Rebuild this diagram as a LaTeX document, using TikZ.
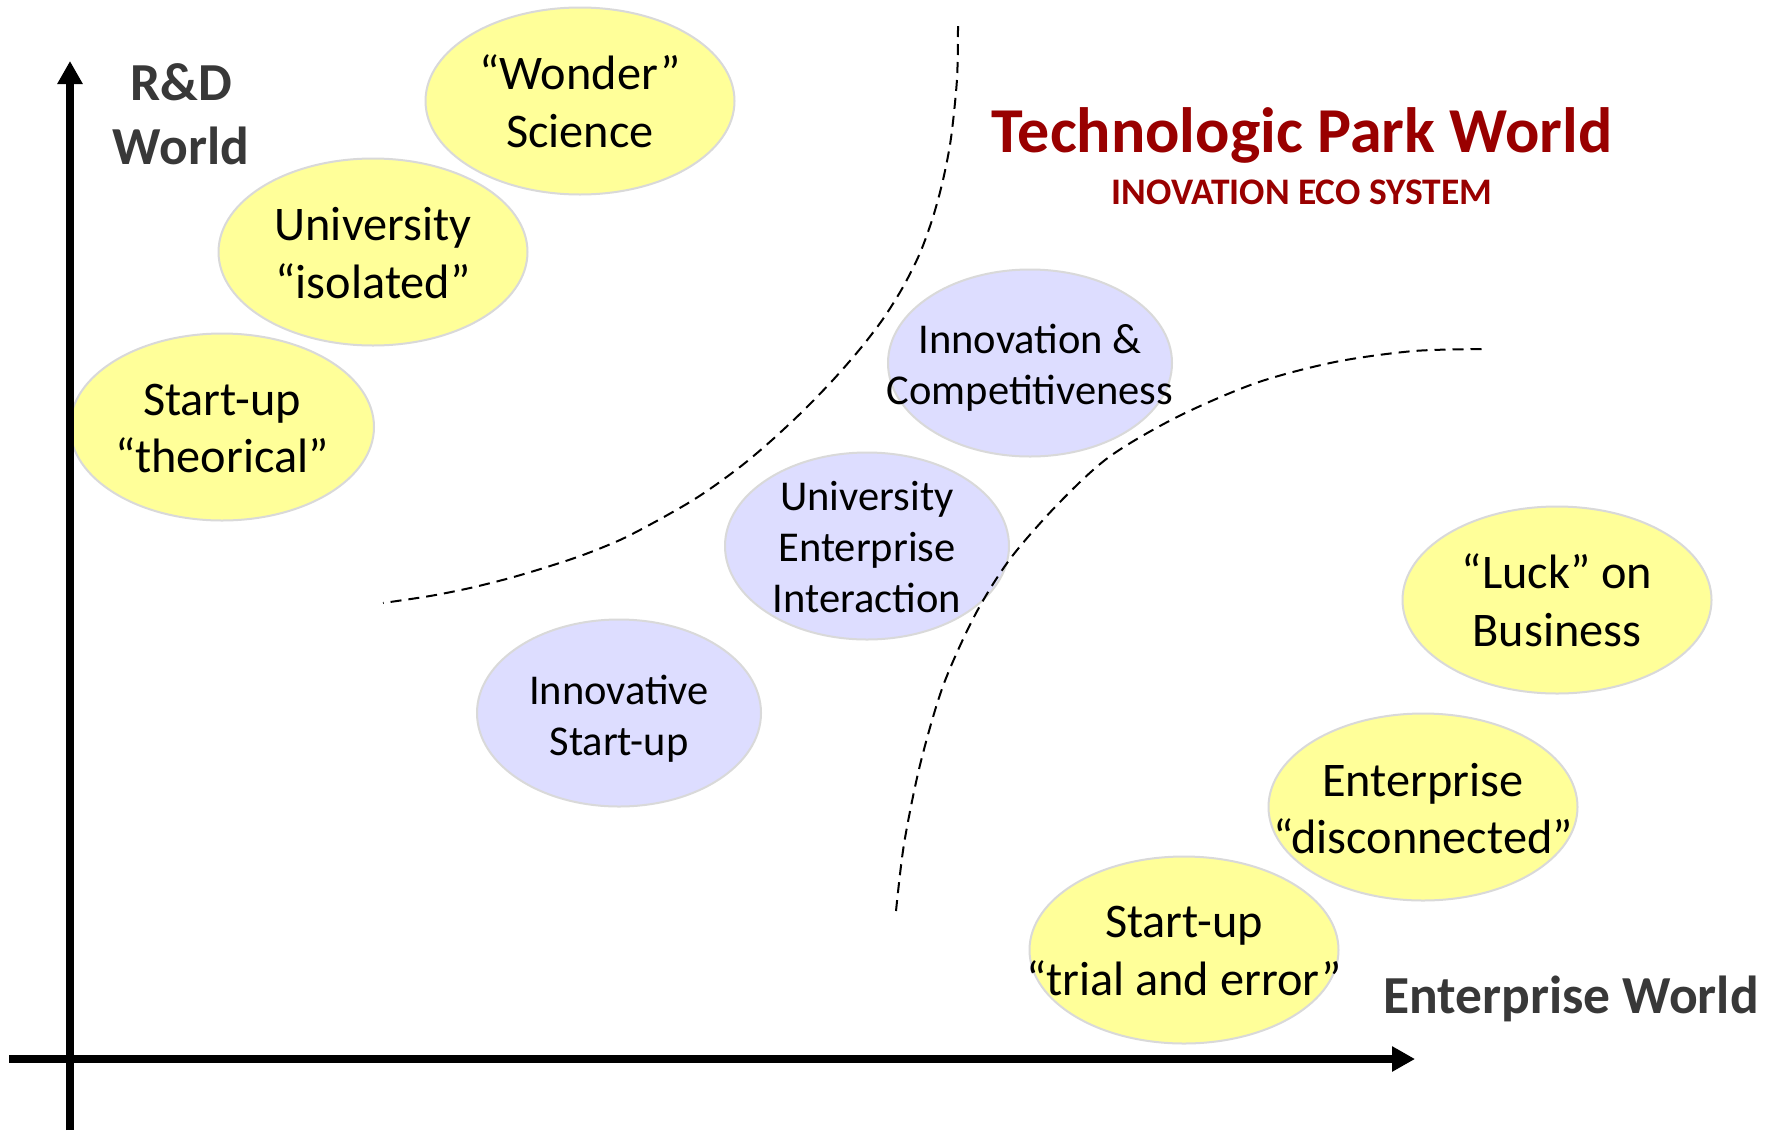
\documentclass[tikz,border=0pt]{standalone}
\usepackage{fontspec}
\setmainfont{Carlito}
\usetikzlibrary{arrows.meta,shapes.geometric}
\definecolor{ellyellow}{RGB}{255,255,153}
\definecolor{ellblue}{RGB}{221,221,255}
\definecolor{ellborder}{RGB}{217,217,217}
\definecolor{titlered}{RGB}{153,0,0}
\definecolor{axisgray}{RGB}{56,56,56}
\begin{document}
\begin{tikzpicture}[x=1pt,y=-1pt,
  yell/.style={ellipse, draw=ellborder, line width=2pt, fill=ellyellow,
    minimum width=309pt, minimum height=187pt, inner sep=0pt},
  bluel/.style={ellipse, draw=ellborder, line width=2pt, fill=ellblue,
    minimum width=284pt, minimum height=187pt, inner sep=0pt},
  ytxt/.style={align=center, inner sep=0pt, font={\fontsize{48.3}{57.5}\selectfont}},
  btxt/.style={align=center, inner sep=0pt, font={\fontsize{42.5}{51}\selectfont}},
  axislbl/.style={align=center, inner sep=0pt, text=axisgray,
    font={\bfseries\fontsize{53.5}{64}\selectfont}},
  axisline/.style={line width=7.6pt, -{Triangle[length=23pt,width=24pt]}},
  sepline/.style={line width=2pt, dash pattern=on 11pt off 7pt}]
\useasboundingbox (0,0) rectangle (1777,1130);
\fill[white] (0,0) rectangle (1777,1130);

% R&D world ellipses
\node[yell] (wonder) at (580,101) {};
\node[yell] (uniiso) at (373,252) {};
\node[yell, minimum width=304pt] (sutheo) at (222,427) {};
% park ellipses
\node[bluel] (innov) at (1030,363) {};
\node[bluel] (uei) at (867,546) {};
\node[bluel] (innsu) at (619,713) {};
% enterprise ellipses
\node[yell] (luck) at (1557,600) {};
\node[yell] (entdis) at (1423,807) {};
\node[yell] (sutrial) at (1184,950) {};

% dashed separators
\draw[sepline] plot[smooth, tension=0.5] coordinates {(958,26) (957,79) (951,138) (943,180) (933,217) (920,253) (903,287) (883,319) (860,349) (833,380) (803,411) (772,440) (745,463) (717,484) (690,502) (653,523) (620,540) (583,555) (547,567) (510,578) (470,588) (430,596) (383,603)};
\draw[sepline] plot[smooth, tension=0.5] coordinates {(896,911) (904,844) (920,765) (943,686) (975,615) (1010,559) (1058,504) (1109,457) (1177,417) (1256,383) (1335,362) (1414,351) (1487,349)};

% texts
\node[ytxt] (t-wonder) at (wonder.center) {“Wonder”\\Science};
\node[ytxt] (t-uniiso) at ([yshift=-1pt]uniiso.center) {University\\“isolated”};
\node[ytxt] (t-sutheo) at ([yshift=-1.5pt]sutheo.center) {Start-up\\“theorical”};
\node[btxt] (t-innov) at ([yshift=-5pt]innov.center) {Innovation \&\\Competitiveness};
\node[btxt] (t-uei) at ([yshift=-1pt]uei.center) {University\\Enterprise\\Interaction};
\node[btxt] (t-innsu) at ([yshift=-5.5pt]innsu.center) {Innovative\\Start-up};
\node[ytxt] (t-luck) at (luck.center) {“Luck” on\\Business};
\node[ytxt] (t-entdis) at ([yshift=-1.5pt]entdis.center) {Enterprise\\“disconnected”};
\node[ytxt] (t-sutrial) at ([yshift=-1pt]sutrial.center) {Start-up\\“trial and error”};

% axes
\coordinate (ybot) at (70,1130);
\coordinate (ytop) at (70,61);
\coordinate (xleft) at (9,1059);
\coordinate (xright) at (1415,1059);
\draw[axisline] (ybot) -- (ytop);
\draw[axisline] (xleft) -- (xright);

% labels
\node[axislbl] (rdworld) at (181,114) {R\&D\\World};
\node[axislbl, anchor=base] (entworld) at (1571,1013) {Enterprise World};
\node[inner sep=0pt, anchor=base, text=titlered, font={\bfseries\fontsize{64}{72}\selectfont}] (title) at (1302,152) {Technologic Park World};
\node[inner sep=0pt, anchor=base, text=titlered, font={\bfseries\fontsize{37.5}{44}\selectfont}] (subtitle) at (1302,204) {INOVATION ECO SYSTEM};
\end{tikzpicture}
\end{document}
